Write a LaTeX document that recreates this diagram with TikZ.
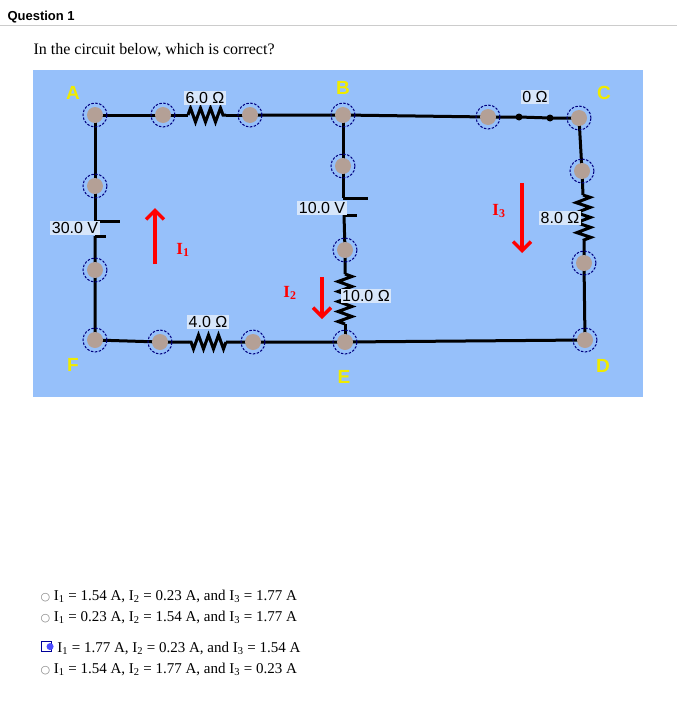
\documentclass[tikz,border=0pt]{standalone}
\usepackage{fontspec}
\setmainfont{Liberation Serif}
\setsansfont{Liberation Sans}
\newfontfamily\dv{DejaVu Sans}
\definecolor{panel}{RGB}{150,192,250}
\definecolor{lblbg}{RGB}{215,230,250}
\definecolor{ylw}{RGB}{240,235,0}
\begin{document}
\begin{tikzpicture}[x=1pt,y=-1pt,
  jn/.style={circle,fill={rgb,255:red,180;green,160;blue,150},minimum size=16pt,inner sep=0pt},
  ring/.style={circle,draw=blue!50!black,dash pattern=on 2.5pt off 1.5pt,line width=1pt,minimum size=24pt,inner sep=0pt},
  wire/.style={line width=3pt,black},
  lbl/.style={fill=lblbg,inner sep=1.5pt,font=\sffamily\fontsize{16}{16}\selectfont},
  pt/.style={font=\sffamily\bfseries\fontsize{19}{19}\selectfont,text=ylw},
  cur/.style={red,line width=3.5pt,-{Straight Barb[length=9pt,width=18pt,line width=3.5pt]}},
  cl/.style={red,font=\bfseries\fontsize{17}{17}\selectfont},
  opt/.style={anchor=west,font=\fontsize{15}{15}\selectfont}]
\usetikzlibrary{arrows.meta,decorations.pathmorphing}
\useasboundingbox (0,0) rectangle (677,715);
\node[anchor=west,font=\sffamily\bfseries\fontsize{13}{13}\selectfont] (q) at (4,17) {Question 1};
\draw[gray!40] (0,25) -- (677,25);
\node[anchor=west,font=\fontsize{16}{16}\selectfont] (t) at (30,50) {In the circuit below, which is correct?};
\fill[panel] (33,70) rectangle (643,397);
% coordinates
\coordinate (A) at (95,115); \coordinate (a1) at (163,115); \coordinate (a2) at (250,115);
\coordinate (B) at (343,115); \coordinate (b1) at (488,117); \coordinate (C) at (579,118);
\coordinate (c1) at (582,171); \coordinate (c2) at (584,263); \coordinate (D) at (585,340);
\coordinate (E) at (345,342); \coordinate (e1) at (253,342); \coordinate (e2) at (160,342);
\coordinate (F) at (95,340); \coordinate (f1) at (95,270); \coordinate (f2) at (95,186);
\coordinate (m1) at (343,166); \coordinate (m2) at (345,250);
\coordinate (z1) at (519,117); \coordinate (z2) at (550,118);
% wires
\draw[wire] (A) -- (a1) -- (188,115);
\draw[wire] (226,115) -- (a2);
\draw[wire,decorate,decoration={zigzag,segment length=10pt,amplitude=7pt}] (188,115) -- (226,115);
\draw[wire] (a2) -- (B) -- (b1) -- (z1) -- (z2) -- (C);
\fill (z1) circle (3.5pt) (z2) circle (3.5pt);
\draw[wire] (C) -- (c1) -- (583,195);
\draw[wire,decorate,decoration={zigzag,segment length=10pt,amplitude=7pt}] (583,195) -- (584,240);
\draw[wire] (584,240) -- (c2) -- (D) -- (E) -- (e1) -- (226,342);
\draw[wire,decorate,decoration={zigzag,segment length=10pt,amplitude=7pt}] (226,342) -- (188,342);
\draw[wire] (188,342) -- (e2) -- (F) -- (f1) -- (95,236);
\draw[wire] (95,221) -- (f2) -- (A);
\draw[wire] (95,221) -- (120,221);
\draw[wire] (95,236) -- (106,236);
\draw[wire] (B) -- (m1) -- (343,198);
\draw[wire] (343,198) -- (368,198);
\draw[wire] (344,215) -- (357,215);
\draw[wire] (344,215) -- (m2) -- (345,274);
\draw[wire,decorate,decoration={zigzag,segment length=10pt,amplitude=7pt}] (345,274) -- (345,324);
\draw[wire] (345,324) -- (E);
% junctions
\foreach \p in {A,a1,a2,B,b1,C,c1,c2,D,E,e1,e2,F,f1,f2,m1,m2}{
  \node[ring] (r\p) at (\p) {}; \node[jn] (j\p) at (\p) {};}
% point labels
\node[pt] (lA) at (73,93) {A}; \node[pt] (lB) at (343,88) {B};
\node[pt] (lC) at (604,93) {C}; \node[pt] (lD) at (603,366) {D};
\node[pt] (lF) at (73,365) {F}; \node[pt] (lE) at (344,377) {E};
% value labels
\node[lbl] (v1) at (205,98) {6.0 Ω};
\node[lbl] (v2) at (535,97) {0 Ω};
\node[lbl] (v3) at (75,228) {30.0 V};
\node[lbl] (v4) at (322,208) {10.0 V};
\node[lbl] (v5) at (560,218) {8.0 Ω};
\node[lbl] (v6) at (366,296) {10.0 Ω};
\node[lbl] (v7) at (208,322) {4.0 Ω};
% currents
\coordinate (i1a) at (155,264); \coordinate (i1b) at (155,208);
\draw[cur] (i1a) -- (i1b); \node[cl] (I1) at (183,250) {I$_{\mathbf 1}$};
\coordinate (i2a) at (322,277); \coordinate (i2b) at (322,319);
\draw[cur] (i2a) -- (i2b); \node[cl] (I2) at (290,293) {I$_{\mathbf 2}$};
\coordinate (i3a) at (522,183); \coordinate (i3b) at (522,253);
\draw[cur] (i3a) -- (i3b); \node[cl] (I3) at (499,211) {I$_{\mathbf 3}$};
% options
\node[opt] (o1) at (37,596) {{\color{gray}\dv\fontsize{11}{11}\selectfont ○} I\textsubscript{1} = 1.54 A, I\textsubscript{2} = 0.23 A, and I\textsubscript{3} = 1.77 A};
\node[opt] (o2) at (37,617) {{\color{gray}\dv\fontsize{11}{11}\selectfont ○} I\textsubscript{1} = 0.23 A, I\textsubscript{2} = 1.54 A, and I\textsubscript{3} = 1.77 A};
\node[opt] (o3) at (37,648) {\tikz[baseline=-1pt]\draw[blue!60!black,fill=white,line width=1pt] (0,0) rectangle (10pt,10pt) (5pt,5pt) node[circle,fill=blue!70,inner sep=2.5pt]{};\ I\textsubscript{1} = 1.77 A, I\textsubscript{2} = 0.23 A, and I\textsubscript{3} = 1.54 A};
\node[opt] (o4) at (37,669) {{\color{gray}\dv\fontsize{11}{11}\selectfont ○} I\textsubscript{1} = 1.54 A, I\textsubscript{2} = 1.77 A, and I\textsubscript{3} = 0.23 A};
\end{tikzpicture}
\end{document}
